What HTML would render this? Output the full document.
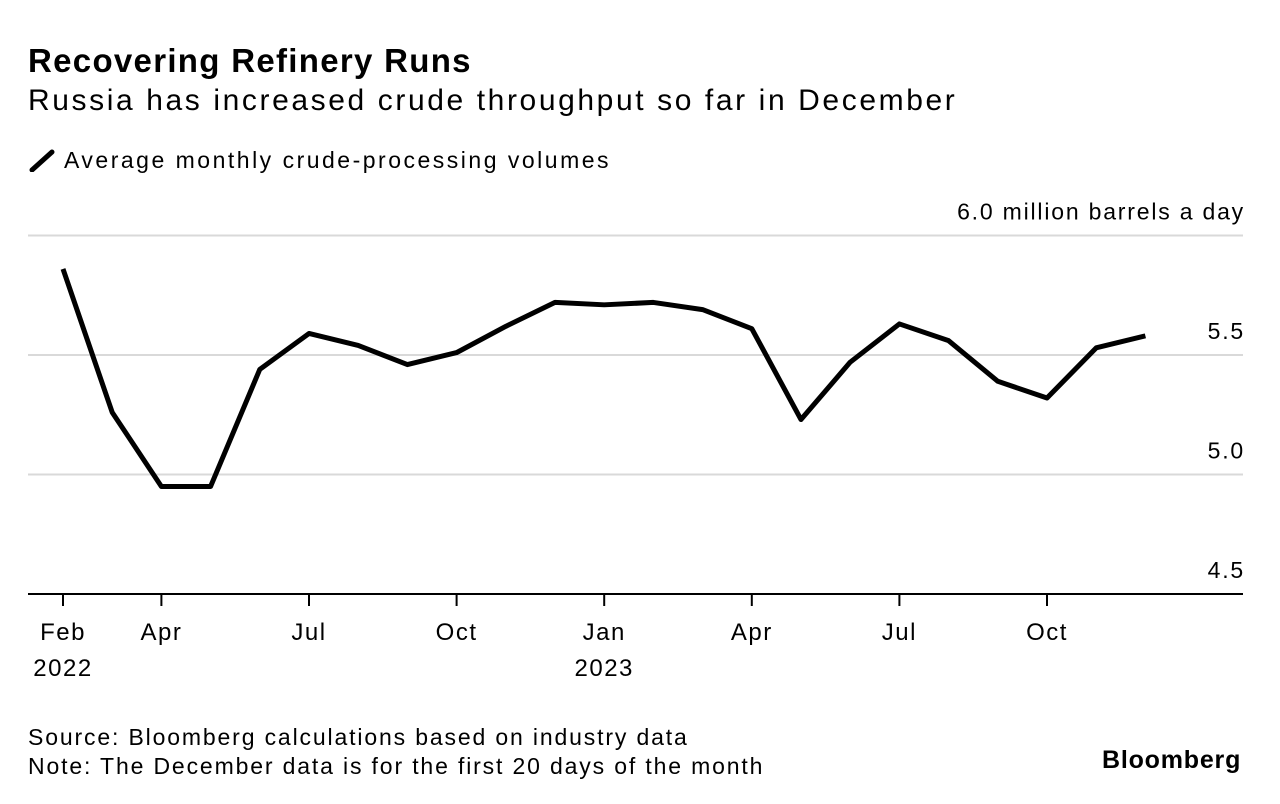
<!DOCTYPE html>
<html><head><meta charset="utf-8"><style>
body{margin:0;background:#fff;font-family:"Liberation Sans",sans-serif;color:#000}
#wrap{position:relative;width:1280px;height:804px;overflow:hidden}
.t{position:absolute;white-space:nowrap}
</style></head><body>
<div id="wrap">
<div class="t" style="left:28px;top:42px;font-size:33px;font-weight:bold;letter-spacing:1.3px">Recovering Refinery Runs</div>
<div class="t" style="left:28px;top:84px;font-size:30px;letter-spacing:2.6px">Russia has increased crude throughput so far in December</div>
<div class="t" style="left:28px;top:147px;font-size:23px;letter-spacing:2.5px"><svg width="36" height="24" style="vertical-align:-4px"><line x1="4" y1="22" x2="24" y2="4" stroke="#000" stroke-width="5" stroke-linecap="round"/></svg>Average monthly crude-processing volumes</div>
<div class="t" style="left:28px;top:723px;font-size:23px;line-height:29px;letter-spacing:1.85px">Source: Bloomberg calculations based on industry data<br>Note: The December data is for the first 20 days of the month</div>
<div class="t" style="left:1102px;top:746px;font-size:25px;font-weight:bold;letter-spacing:0.8px">Bloomberg</div>
<svg id="chart" width="1280" height="804" style="position:absolute;left:0;top:0"></svg>
</div>
<script>
const values=[5.86,5.26,4.95,4.95,5.44,5.59,5.54,5.46,5.51,5.62,5.72,5.71,5.72,5.69,5.61,5.23,5.47,5.63,5.56,5.39,5.32,5.53,5.58];
const yTicks=[4.5,5.0,5.5,6.0];
const yTickLabels=["4.5","5.0","5.5","6.0 million barrels a day"];
const xTickIdx=[0,2,5,8,11,14,17,20];
const xTickLabels=[["Feb","2022"],["Apr"],["Jul"],["Oct"],["Jan","2023"],["Apr"],["Jul"],["Oct"]];
const svg=document.getElementById('chart');const NS='http://www.w3.org/2000/svg';
const x=i=>63+i*49.2;const y=v=>594-(v-4.5)*239;
function mk(t,a){const e=document.createElementNS(NS,t);for(const k in a)e.setAttribute(k,a[k]);svg.appendChild(e);return e;}
yTicks.forEach((v,i)=>{
 if(i>0){const g=mk('line',{x1:28,x2:1243,y1:y(v),y2:y(v),stroke:'#d9d9d9','stroke-width':2});
 
 }
 const t=mk('text',{x:1245,y:y(v)-16,'text-anchor':'end','font-size':23,'font-family':'Liberation Sans','letter-spacing':1.8});t.textContent=yTickLabels[i];
 
 
});
const ax=mk('line',{x1:28,x2:1243,y1:594,y2:594,stroke:'#000','stroke-width':2});


xTickIdx.forEach((idx,i)=>{
 const tk=mk('line',{x1:x(idx),x2:x(idx),y1:594,y2:606,stroke:'#000','stroke-width':2});
 
 
 xTickLabels[i].forEach((s,j)=>{const t=mk('text',{x:x(idx),y:640+j*36,'text-anchor':'middle','font-size':24,'font-family':'Liberation Sans','letter-spacing':1.5});t.textContent=s;
 
 });
});
const p=mk('polyline',{points:values.map((v,i)=>x(i)+','+y(v)).join(' '),fill:'none',stroke:'#000','stroke-width':5,'stroke-linejoin':'round'});


</script>
</body></html>
